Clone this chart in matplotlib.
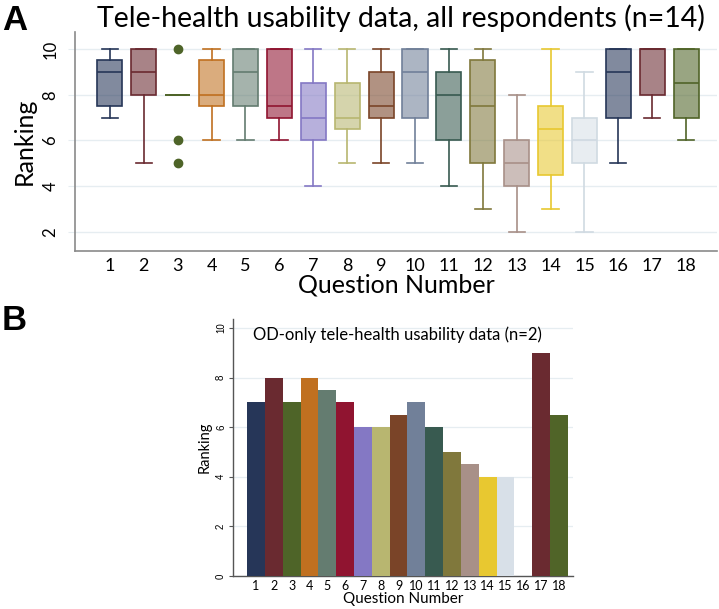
import numpy as np
import matplotlib
matplotlib.use("Agg")
import matplotlib.pyplot as plt

# ---------------- data ----------------
questions = list(range(1, 19))
# Panel A: box-plot summary (n=14)
q_lo  = [7, 5, 8, 6, 6, 6, 4, 5, 5, 5, 4, 3, 2, 3, 2, 5, 7, 6]
q_q1  = [7.5, 8, 8, 7.5, 7.5, 7, 6, 6.5, 7, 7, 6, 5, 4, 4.5, 5, 7, 8, 7]
q_med = [9, 9, 8, 8, 9, 7.5, 7, 7, 7.5, 9, 8, 7.5, 5, 6.5, 6, 9, 10, 8.5]
q_q3  = [9.5, 10, 8, 9.5, 10, 10, 8.5, 8.5, 9, 10, 9, 9.5, 6, 7.5, 7, 10, 10, 10]
q_hi  = [10, 10, 8, 10, 10, 10, 10, 10, 10, 10, 10, 10, 8, 10, 9, 10, 10, 10]
q3_outliers = [10, 6, 5]

# Panel B: OD-only means (n=2); Q16 missing
od_values = [7, 8, 7, 8, 7.5, 7, 6, 6, 6.5, 7, 6, 5, 4.5, 4, 4, np.nan, 9, 6.5]

colors = ["#263658", "#6a2a30", "#4e6428", "#c07020", "#647c70", "#901430",
          "#8478c4", "#b8b670", "#7a4428", "#718099", "#385a50", "#80783c",
          "#a89088", "#e8c830", "#d8e0e8", "#263658", "#6a2a30", "#506428"]

title_a = "Tele-health usability data, all respondents (n=14)"
title_b = "OD-only tele-health usability data (n=2)"

plt.rcParams['font.family'] = ['Lato', 'DejaVu Sans']

fig = plt.figure(figsize=(7.19, 6.09), dpi=100)

grid_c = "#e6edf1"
spine_c = "#8a8a8a"

# ---------------- Panel A ----------------
axA = fig.add_axes([75/719, 1-251/609, (717-75)/719, (251-32)/609])
stats = []
for i in range(18):
    fl = q3_outliers if i == 2 else []
    stats.append(dict(med=q_med[i], q1=q_q1[i], q3=q_q3[i],
                      whislo=q_lo[i], whishi=q_hi[i], fliers=fl))
bp = axA.bxp(stats, positions=questions, widths=0.74, capwidths=0.48,
             patch_artist=True, showfliers=True)
edge_a = list(colors)
edge_a[14] = "#d0dae2"
for i, box in enumerate(bp['boxes']):
    fc = matplotlib.colors.to_rgba(colors[i], 0.58)
    box.set_facecolor(fc)
    box.set_edgecolor(edge_a[i])
    box.set_linewidth(1.2)
    box.set_zorder(3)
for i, med in enumerate(bp['medians']):
    med.set_color(edge_a[i]); med.set_linewidth(1.2); med.set_zorder(4)
for i in range(18):
    for w in bp['whiskers'][2*i:2*i+2]:
        w.set_color(edge_a[i]); w.set_linewidth(1.2)
    for c in bp['caps'][2*i:2*i+2]:
        c.set_color(edge_a[i]); c.set_linewidth(1.2)
for i, f in enumerate(bp['fliers']):
    f.set_marker('o'); f.set_markerfacecolor(colors[i]); f.set_markeredgecolor(colors[i])
    f.set_markersize(6)

axA.set_xlim(-0.03, 18.91)
axA.set_ylim(1.17, 10.74)
axA.set_yticks([2, 4, 6, 8, 10])
axA.set_xticks(questions)
axA.set_xticklabels([str(q) for q in questions], fontsize=13)
axA.tick_params(axis='x', length=0, pad=5)
axA.tick_params(axis='y', length=5, color=grid_c, labelsize=12, pad=7)
for lab in axA.get_yticklabels():
    lab.set_rotation(90); lab.set_va('center')
axA.grid(axis='y', color=grid_c, linewidth=1.0, zorder=0)
axA.set_axisbelow(True)
for s in ['top', 'right']:
    axA.spines[s].set_visible(False)
for s in ['left', 'bottom']:
    axA.spines[s].set_color(spine_c); axA.spines[s].set_linewidth(1.2)
axA.set_ylabel("Ranking", fontsize=18, labelpad=5)
axA.set_xlabel("Question Number", fontsize=18, labelpad=0)
fig.text(401/719, 1-18/609, title_a, fontsize=20.5, ha='center', va='center')
fig.text(2/719, 1-20/609, "A", fontsize=25, fontweight='bold', ha='left', va='center',
         family='Liberation Sans')

# ---------------- Panel B ----------------
axB = fig.add_axes([233/719, 1-576/609, (573-233)/719, (576-319)/609])
axB.bar(questions, od_values, width=1.0, color=colors, edgecolor='none', zorder=3)
axB.set_xlim(-0.29, 18.79)
axB.set_ylim(0, 10.36)
axB.set_yticks([0, 2, 4, 6, 8, 10])
axB.set_xticks(questions)
axB.set_xticklabels([str(q) for q in questions], fontsize=9)
axB.tick_params(axis='x', length=0, pad=3)
axB.tick_params(axis='y', length=3, color="#555555", labelsize=7, pad=2)
for lab in axB.get_yticklabels():
    lab.set_rotation(90); lab.set_va('center'); lab.set_family('Liberation Sans')
axB.grid(axis='y', color=grid_c, linewidth=0.9, zorder=0)
axB.set_axisbelow(True)
for s in ['top', 'right']:
    axB.spines[s].set_visible(False)
for s in ['left', 'bottom']:
    axB.spines[s].set_color("#555555"); axB.spines[s].set_linewidth(1.0)
axB.set_ylabel("Ranking", fontsize=10.5, labelpad=3)
axB.set_xlabel("Question Number", fontsize=11, labelpad=0)
axB.text(20/340, 1-(335-319)/257, title_b, transform=axB.transAxes,
         fontsize=12, ha='left', va='center')
fig.text(2/719, 1-321/609, "B", fontsize=25, fontweight='bold', ha='left', va='center',
         family='Liberation Sans')

fig.savefig("out.png", dpi=100)
